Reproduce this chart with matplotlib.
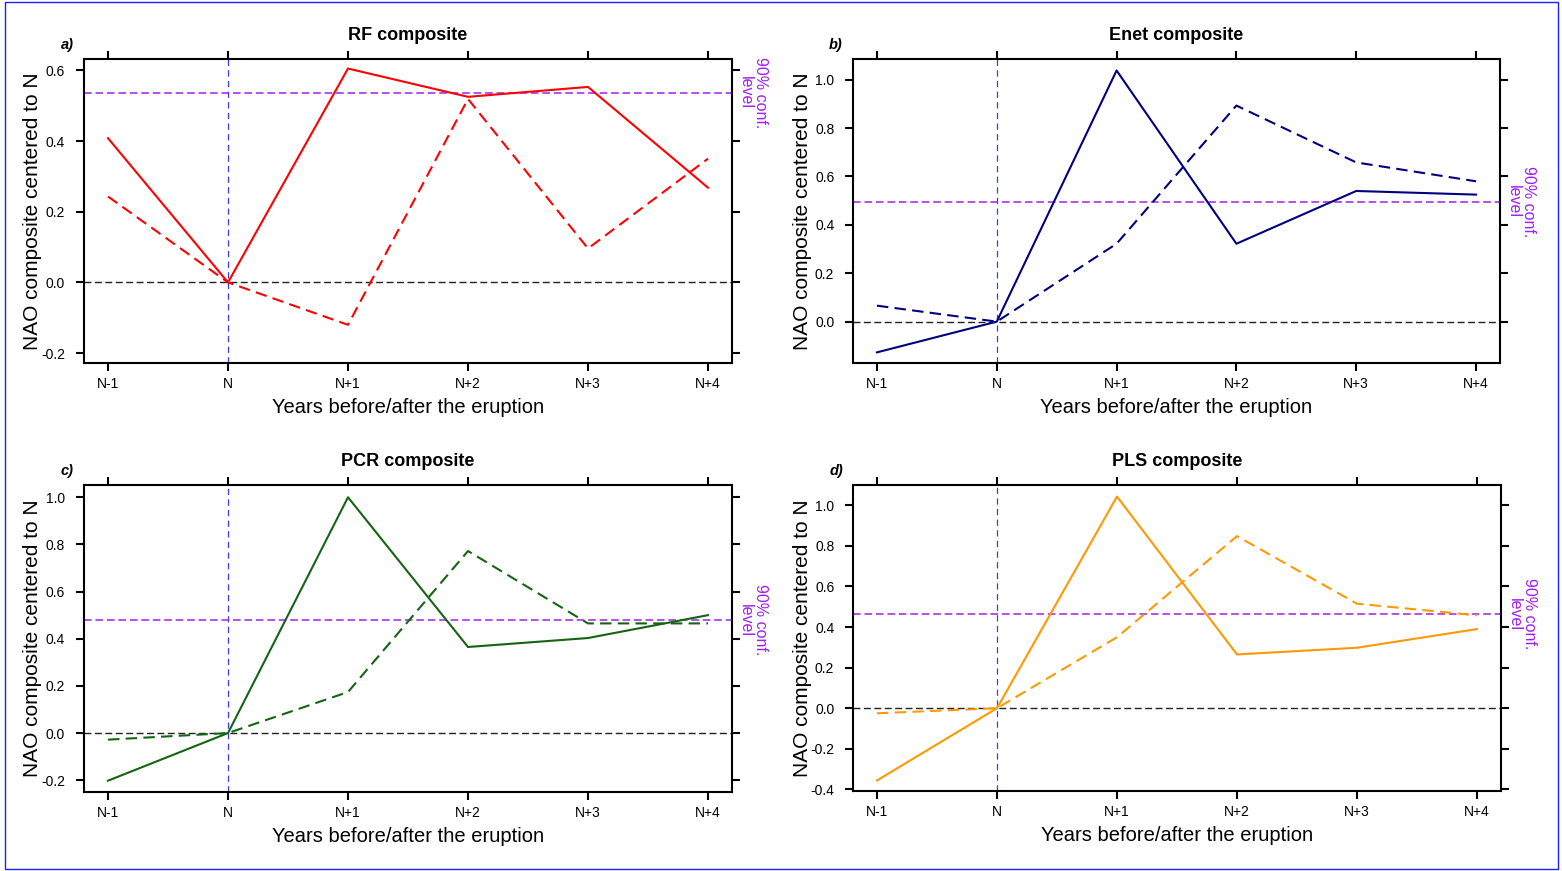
"""
NAO composites around volcanic eruptions for four regression methods.

Four panels (RF, Enet, PCR, PLS), each with a solid and a dashed
composite, a zero line, the eruption year marker and the 90% level.
"""

import matplotlib

matplotlib.use("Agg")
import matplotlib.pyplot as plt
import matplotlib.transforms as mtransforms
from matplotlib.patches import Rectangle

plt.rcParams["font.family"] = ["Liberation Sans", "DejaVu Sans"]

# ---------------------------------------------------------------------------
# Data
# ---------------------------------------------------------------------------
YEARS = ["N-1", "N", "N+1", "N+2", "N+3", "N+4"]

RF_SOLID = [0.408, 0.0, 0.605, 0.525, 0.553, 0.268]
RF_DASHED = [0.243, 0.0, -0.120, 0.519, 0.096, 0.350]
RF_CONF = 0.537

ENET_SOLID = [-0.127, 0.0, 1.038, 0.322, 0.540, 0.525]
ENET_DASHED = [0.066, 0.0, 0.322, 0.893, 0.658, 0.580]
ENET_CONF = 0.496

PCR_SOLID = [-0.202, 0.0, 1.0, 0.365, 0.403, 0.500]
PCR_DASHED = [-0.028, 0.0, 0.174, 0.772, 0.465, 0.465]
PCR_CONF = 0.479

PLS_SOLID = [-0.356, 0.0, 1.043, 0.265, 0.298, 0.390]
PLS_DASHED = [-0.025, 0.0, 0.350, 0.848, 0.515, 0.458]
PLS_CONF = 0.464

FIG_W, FIG_H = 1562, 871
PURPLE = "#A020F0"


def px_axes(left, top, right, bottom):
    """Pixel box (origin top-left) -> figure fraction rect."""
    return [left / FIG_W, 1 - bottom / FIG_H, (right - left) / FIG_W, (bottom - top) / FIG_H]


PANELS = [
    # tag, title, solid, dashed, conf, colour, ylim, yticks, box
    ("a)", "RF composite", RF_SOLID, RF_DASHED, RF_CONF, "#FF0000",
     (-0.228, 0.632), [-0.2, 0.0, 0.2, 0.4, 0.6], (84, 59, 732, 363)),
    ("b)", "Enet composite", ENET_SOLID, ENET_DASHED, ENET_CONF, "#000080",
     (-0.171, 1.0855), [0.0, 0.2, 0.4, 0.6, 0.8, 1.0], (853, 59, 1500, 363)),
    ("c)", "PCR composite", PCR_SOLID, PCR_DASHED, PCR_CONF, "#146414",
     (-0.250, 1.052), [-0.2, 0.0, 0.2, 0.4, 0.6, 0.8, 1.0], (84, 485, 732, 792)),
    ("d)", "PLS composite", PLS_SOLID, PLS_DASHED, PLS_CONF, "#FF9900",
     (-0.408, 1.100), [-0.4, -0.2, 0.0, 0.2, 0.4, 0.6, 0.8, 1.0], (853, 485, 1501, 791)),
]


def draw_panel(fig, tag, title, solid, dashed, conf, colour, ylim, yticks, box):
    ax = fig.add_axes(px_axes(*box))
    x = list(range(len(YEARS)))

    ax.axhline(0.0, color="#222222", lw=1.0, ls=(0, (5, 2.5)), zorder=1)
    ax.axvline(1, color="#3a3aff", lw=0.9, ls=(0, (5, 3.5)), zorder=1)
    ax.axhline(conf, color=PURPLE, lw=1.1, ls=(0, (5, 2.5)), zorder=1)

    ax.plot(x, solid, color=colour, lw=1.5, zorder=3)
    ax.plot(x, dashed, color=colour, lw=1.5, ls=(0, (5.5, 3)), zorder=3)

    ax.set_xlim(-0.2, 5.2)
    ax.set_ylim(*ylim)
    ax.set_xticks(x)
    ax.set_xticklabels(YEARS)
    ax.set_yticks(yticks)
    ax.set_yticklabels([f"{v:.1f}" for v in yticks])

    for side in ax.spines.values():
        side.set_linewidth(1.5)
    ax.tick_params(direction="out", length=6, width=1.5, labelsize=10,
                   top=True, right=True, labeltop=False, labelright=False)
    ax.tick_params(axis="y", pad=7.5)
    ax.tick_params(axis="x", pad=4)

    ax.set_xlabel("Years before/after the eruption", fontsize=14.5)
    ax.set_ylabel("NAO composite centered to N", fontsize=15)
    w = box[2] - box[0]
    h = box[3] - box[1]
    ax.xaxis.set_label_coords(0.5, -44 / h)
    ax.xaxis.label.set_va("center")
    ax.yaxis.set_label_coords(-51 / w, 0.5)
    ax.yaxis.label.set_va("center")

    ax.set_title(title, fontsize=13, fontweight="bold", pad=13.5)
    ax.text(-17 / w, 1 + 14 / h, tag, transform=ax.transAxes, fontsize=10.5,
            fontweight="bold", fontstyle="italic", ha="center", va="center")

    trans = mtransforms.blended_transform_factory(ax.transAxes, ax.transData)
    ax.text(1 + 21 / w, conf, "90% conf.\nlevel", transform=trans, rotation=-90,
            ha="center", va="center", multialignment="center", color=PURPLE,
            fontsize=11.5, clip_on=False, linespacing=1.05)
    return ax


def main() -> None:
    fig = plt.figure(figsize=(FIG_W / 100, FIG_H / 100), dpi=100)

    for spec in PANELS:
        draw_panel(fig, *spec)

    # thin blue frame round the whole figure
    fig.patches.append(Rectangle((5 / FIG_W, 2 / FIG_H), 1553 / FIG_W, 867 / FIG_H,
                                 transform=fig.transFigure, fill=False,
                                 edgecolor="#2020ff", lw=1.0))

    fig.savefig("out.png", dpi=100)
    plt.close(fig)


if __name__ == "__main__":
    main()
